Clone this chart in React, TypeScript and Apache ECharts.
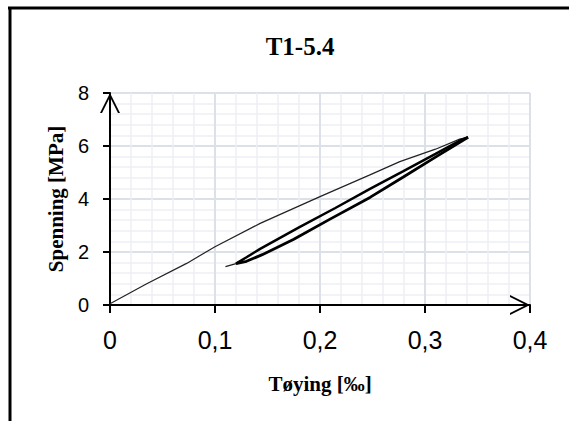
import React, { useEffect, useRef } from "react";
import * as echarts from "echarts";

// Loading branch (thin line), strain in ‰, stress in MPa
const loadStrain = [0, 0.035, 0.073, 0.1, 0.143, 0.2, 0.247, 0.276, 0.31, 0.333, 0.341];
const loadStress = [0.05, 0.8, 1.57, 2.2, 3.08, 4.09, 4.9, 5.41, 5.88, 6.26, 6.33];

// Unloading branch (lower, thick)
const unloadStrain = [0.341, 0.31, 0.279, 0.2476, 0.21, 0.1746, 0.145, 0.13, 0.12];
const unloadStress = [6.33, 5.58, 4.82, 4.06, 3.25, 2.47, 1.9, 1.65, 1.56];

// Reloading branch (upper, thick)
const reloadStrain = [0.12, 0.13, 0.143, 0.18, 0.2146, 0.2476, 0.279, 0.31, 0.335, 0.341];
const reloadStress = [1.56, 1.8, 2.12, 2.93, 3.66, 4.38, 5.04, 5.7, 6.24, 6.33];

// Final tail (thin)
const tailStrain = [0.12, 0.11];
const tailStress = [1.56, 1.45];

const xTicks = [0, 0.1, 0.2, 0.3, 0.4];
const yTicks = [0, 2, 4, 6, 8];

const zip = (a: number[], b: number[]) => a.map((v, i) => [v, b[i]]);

const arrowPath = "path://M5,0 L10,10 L8.99,10 L5,2.01 L1.01,10 L0,10 Z";

export default function App() {
  const ref = useRef<HTMLDivElement>(null);
  useEffect(() => {
    if (!ref.current) return;
    const chart = echarts.init(ref.current, undefined, { renderer: "svg" });
    const axisLine = {
      show: true,
      onZero: true,
      symbol: ["none", arrowPath],
      symbolSize: [20, 20],
      symbolOffset: [0, -10],
      lineStyle: { color: "#000", width: 2 },
    };
    chart.setOption({
      animation: false,
      backgroundColor: "#fff",
      title: {
        text: "T1-5.4",
        left: 295,
        top: 29,
        textAlign: "center",
        textStyle: {
          fontFamily: "'Liberation Serif', serif",
          fontWeight: "bold",
          fontSize: 25,
          color: "#000",
        },
      },
      graphic: [
        { type: "line", shape: { x1: 8, y1: 8, x2: 569, y2: 8 }, style: { stroke: "#000", lineWidth: 3 } },
        { type: "line", shape: { x1: 10, y1: 7, x2: 10, y2: 421 }, style: { stroke: "#000", lineWidth: 3 } },
      ],
      grid: { left: 110, right: 39, top: 93, bottom: 116, containLabel: false },
      xAxis: {
        type: "value",
        min: xTicks[0],
        max: xTicks[xTicks.length - 1],
        interval: 0.1,
        name: "Tøying [‰]",
        nameLocation: "middle",
        nameGap: 68,
        nameTextStyle: {
          fontFamily: "'Liberation Serif', serif",
          fontWeight: "bold",
          fontSize: 21,
          color: "#000",
        },
        axisLine,
        axisTick: { show: true, length: 8, lineStyle: { color: "#000", width: 2 } },
        axisLabel: {
          margin: 22,
          fontFamily: "'Liberation Sans', Arial, sans-serif",
          fontSize: 25,
          color: "#000",
          formatter: (v: number) => String(Math.round(v * 10) / 10).replace(".", ","),
        },
        splitLine: { show: true, lineStyle: { color: "#dbe0e9", width: 2 } },
        minorTick: { show: false, splitNumber: 5 },
        minorSplitLine: { show: true, lineStyle: { color: "#eceff3", width: 1.5 } },
      },
      yAxis: {
        type: "value",
        min: yTicks[0],
        max: yTicks[yTicks.length - 1],
        interval: 2,
        name: "Spenning [MPa]",
        nameLocation: "middle",
        nameGap: 44,
        nameRotate: 90,
        nameTextStyle: {
          fontFamily: "'Liberation Serif', serif",
          fontWeight: "bold",
          fontSize: 21,
          color: "#000",
        },
        axisLine,
        axisTick: { show: true, length: 7, lineStyle: { color: "#000", width: 2 } },
        axisLabel: {
          margin: 21,
          fontFamily: "'Liberation Sans', Arial, sans-serif",
          fontSize: 20,
          color: "#000",
        },
        splitLine: { show: true, lineStyle: { color: "#dbe0e9", width: 2 } },
        minorTick: { show: false, splitNumber: 5 },
        minorSplitLine: { show: true, lineStyle: { color: "#eceff3", width: 1.5 } },
      },
      series: [
        {
          name: "Belastning",
          type: "line",
          data: zip(loadStrain, loadStress),
          showSymbol: false,
          lineStyle: { color: "#222", width: 1.2 },
          z: 3,
        },
        {
          name: "Avlastning",
          type: "line",
          data: zip(unloadStrain, unloadStress),
          showSymbol: false,
          lineStyle: { color: "#000", width: 2.8 },
          z: 4,
        },
        {
          name: "Gjenbelastning",
          type: "line",
          data: zip(reloadStrain, reloadStress),
          showSymbol: false,
          lineStyle: { color: "#000", width: 2.5 },
          z: 4,
        },
        {
          name: "Hale",
          type: "line",
          data: zip(tailStrain, tailStress),
          showSymbol: false,
          lineStyle: { color: "#222", width: 1.2 },
          z: 3,
        },
      ],
    });
    return () => chart.dispose();
  }, []);
  return (
    <div
      ref={ref}
      style={{ position: "fixed", left: 0, top: 0, width: 569, height: 421 }}
    />
  );
}
